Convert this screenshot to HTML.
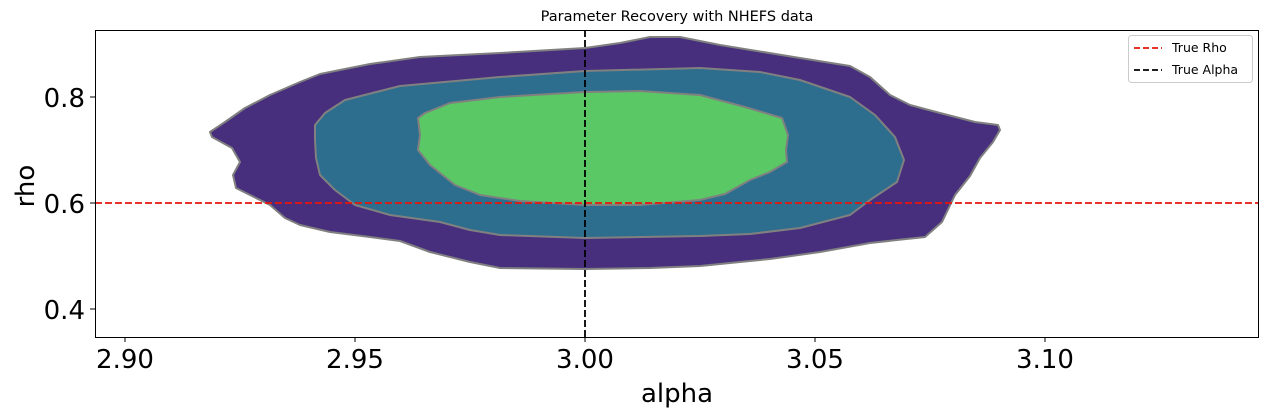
<!DOCTYPE html>
<html><head><meta charset="utf-8"><style>
body{margin:0;background:#fff;}
svg{display:block;font-family:"DejaVu Sans","Liberation Sans",sans-serif;}
</style></head><body>
<svg width="1268" height="417" viewBox="0 0 1268 417">
<rect width="1268" height="417" fill="#fff"/>
<text x="677" y="21" font-size="14.5" text-anchor="middle">Parameter Recovery with NHEFS data</text>
<g stroke="#808080" stroke-width="2" stroke-linejoin="round">
<polygon fill="#472f7d" points="210,132 225,122 245,108 270,95 300,82 320,74 370,64 420,57 500,53 585,48 620,43 650,37 680,37 720,45 800,58 850,66 870,77 890,95 910,105 940,113 975,122 998,125 1000,130 993,142 980,158 970,176 955,195 942,222 925,237 870,243 820,252 770,259 740,262 700,266 650,268 585,269 500,268 470,262 430,252 400,241 370,237 330,232 300,225 285,218 270,205 250,195 236,188 233,175 240,162 232,148 212,137"/>
<polygon fill="#2d6e8e" points="315,125 325,113 345,100 400,86 500,77 585,71 700,68 760,72 800,80 850,97 875,115 895,137 904,160 897,182 870,200 850,215 800,228 750,234 700,236 585,238 500,235 470,230 440,222 390,215 355,205 335,190 320,175 316,158 315,140"/>
<polygon fill="#5ac864" points="418,118 425,113 450,103 500,97 585,92 640,91 700,95 745,107 782,118 788,135 786,150 787,162 770,172 750,180 725,194 700,200 640,205 585,205 520,201 480,195 455,185 430,165 418,150 420,135"/>
</g>
<line x1="95" y1="203" x2="1259" y2="203" stroke="#e8160c" stroke-width="1.8" stroke-dasharray="7,3"/>
<line x1="585" y1="30" x2="585" y2="337" stroke="#000" stroke-width="1.8" stroke-dasharray="7,3"/>
<rect x="95.5" y="30.5" width="1163" height="307" fill="none" stroke="#000" stroke-width="1"/>
<g stroke="#000" stroke-width="1">
<line x1="125" y1="337" x2="125" y2="342"/><line x1="355" y1="337" x2="355" y2="342"/><line x1="585" y1="337" x2="585" y2="342"/><line x1="815" y1="337" x2="815" y2="342"/><line x1="1045" y1="337" x2="1045" y2="342"/>
<line x1="90" y1="97" x2="95" y2="97"/><line x1="90" y1="203" x2="95" y2="203"/><line x1="90" y1="309" x2="95" y2="309"/>
</g>
<g font-size="26" text-anchor="middle">
<text x="125" y="368">2.90</text><text x="355" y="368">2.95</text><text x="585" y="368">3.00</text><text x="815" y="368">3.05</text><text x="1045" y="368">3.10</text>
<text x="677" y="402">alpha</text>
</g>
<g font-size="26" text-anchor="end">
<text x="85" y="107">0.8</text><text x="85" y="213">0.6</text><text x="85" y="319">0.4</text>
</g>
<text transform="translate(34,186) rotate(-90)" font-size="26" text-anchor="middle">rho</text>
<rect x="1128.5" y="35.5" width="124" height="47" rx="3" fill="#fff" stroke="#ccc"/>
<line x1="1134" y1="48" x2="1162" y2="48" stroke="#e8160c" stroke-width="1.8" stroke-dasharray="6,3"/>
<line x1="1134" y1="70" x2="1162" y2="70" stroke="#000" stroke-width="1.8" stroke-dasharray="6,3"/>
<text x="1172" y="52" font-size="12.5">True Rho</text>
<text x="1172" y="74" font-size="12.5">True Alpha</text>
</svg>
</body></html>
